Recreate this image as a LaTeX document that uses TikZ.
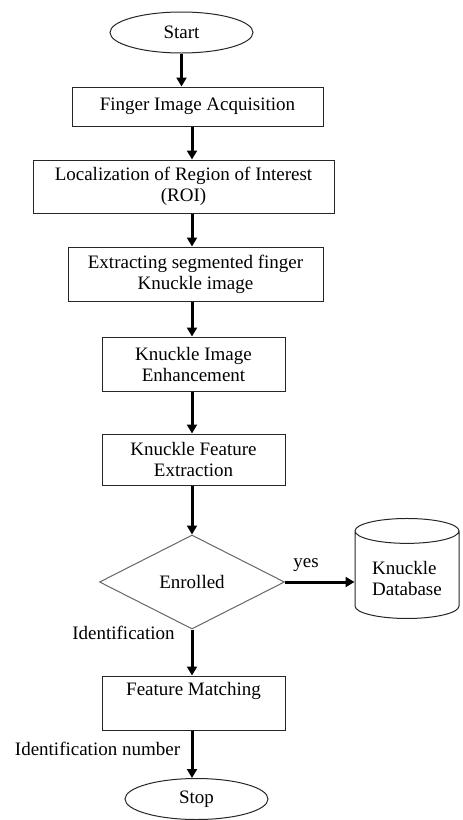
\documentclass[tikz,border=0pt]{standalone}
\usepackage{fontspec}
\setmainfont{Liberation Serif}
\usetikzlibrary{shapes.geometric,arrows.meta}
\begin{document}
\begin{tikzpicture}[
        x=0.5pt, y=-0.5pt,
        every node/.style={font=\fontsize{9.5pt}{10.5pt}\selectfont},
        process/.style={draw=black!85, line width=0.5pt, rectangle, align=center, inner sep=0pt},
        terminal/.style={draw=black!85, line width=0.5pt, ellipse, inner sep=0pt, minimum width=71.5pt, minimum height=20.5pt},
        decision/.style={draw=black!60, line width=0.5pt, diamond, inner sep=0pt, minimum width=92.5pt, minimum height=47pt},
        store/.style={draw=black!85, line width=0.5pt, cylinder, shape border rotate=90, aspect=0.3, align=left, minimum width=52pt, minimum height=50pt},
        flow/.style={line width=1.5pt, -{Triangle[length=4.5pt, width=5pt]}},
    ]
    \useasboundingbox (0, 0) rectangle (462, 820);
    \coordinate (col) at (192, 0);

    \node[terminal] (start) at (181.5, 32.5) {Start};
    \node[process, minimum width=125.5pt, minimum height=19.5pt] (acq) at (197.5, 106.5) {Finger Image Acquisition};
    \node[process, minimum width=150.5pt, minimum height=26.5pt] (roi) at (183.5, 186.5) {Localization of Region of Interest\\(ROI)};
    \node[process, minimum width=127.5pt, minimum height=27pt] (seg) at (195.5, 274) {Extracting segmented finger\\Knuckle image};
    \node[process, minimum width=91.5pt, minimum height=27pt] (enh) at (193.5, 364) {Knuckle Image\\Enhancement};
    \node[process, minimum width=91.5pt, minimum height=25.5pt] (fex) at (193.5, 459.5) {Knuckle Feature\\Extraction};
    \node[decision] (enrol) at (192, 582) {Enrolled};
    \node[store] (db) at (407, 578) {Knuckle\\Database};
    \node[process, minimum width=91.5pt, minimum height=27pt] (match) at (193.5, 703) {Feature Matching\\\strut};
    \node[terminal] (stop) at (196.5, 799) {Stop};

    \node (yes) at (306, 565) {yes};
    \node (ident) at (123.5, 633) {Identification};
    \node (idnum) at (97.5, 749) {Identification number};

    \draw[flow] (start.south) -- (start.south |- acq.north);
    \draw[flow] (col |- acq.south) -- (col |- roi.north);
    \draw[flow] (col |- roi.south) -- (col |- seg.north);
    \draw[flow] (col |- seg.south) -- (col |- enh.north);
    \draw[flow] (col |- enh.south) -- (col |- fex.north);
    \draw[flow] (col |- fex.south) -- (enrol.north);
    \draw[flow] (enrol.east) -- (enrol.east -| db.west);
    \draw[flow] (enrol.south) -- (enrol.south |- match.north);
    \draw[flow] (col |- match.south) -- (col |- stop.north);
\end{tikzpicture}
\end{document}
